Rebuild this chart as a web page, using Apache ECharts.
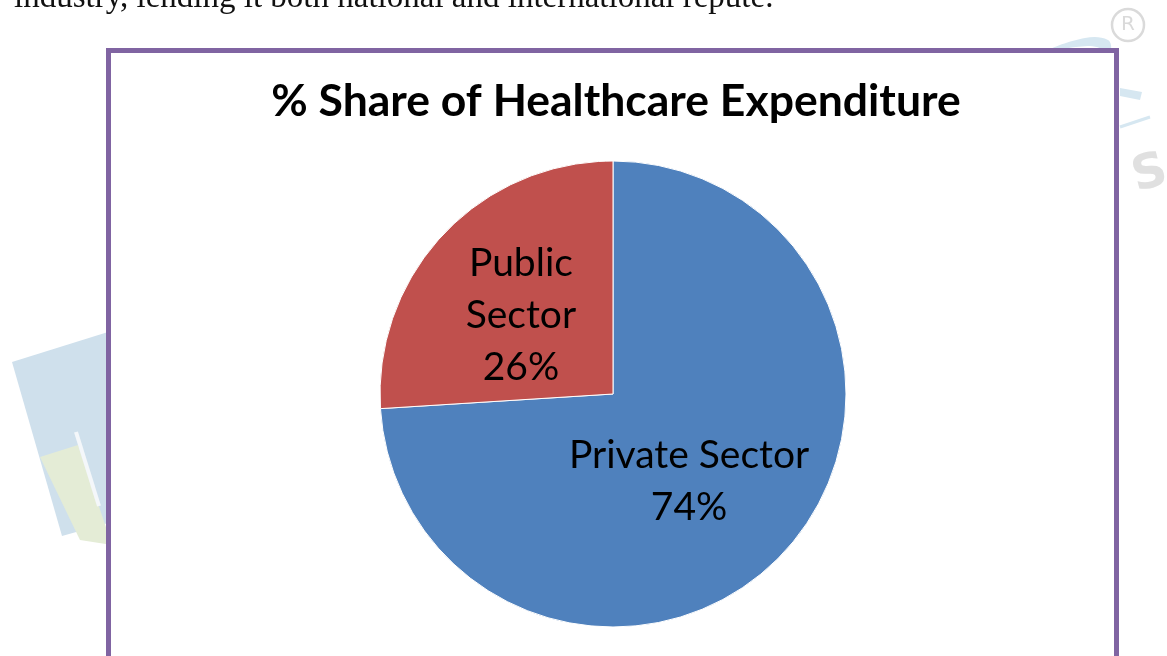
<!DOCTYPE html>
<html><head><meta charset="utf-8">
<script src="https://cdn.jsdelivr.net/npm/echarts@6/dist/echarts.min.js"></script>
<style>html,body{margin:0;padding:0;background:#fff}#c{width:1167px;height:656px}</style>
</head><body><div id="c"></div>
<script>
const chartTitle = '% Share of Healthcare Expenditure';
const categories = ['Private Sector', 'Public Sector'];
const displayLabels = ['Private Sector', 'Public\nSector'];
const values = [74, 26];
const colors = ['#4F81BD', '#C0504D'];
const pageText = 'industry, lending it both national and international repute.';

const labelShift = [[-11, 6], [-5, 3]];

const chart = echarts.init(document.getElementById('c'), null, {renderer: 'canvas'});
chart.setOption({
  backgroundColor: '#ffffff',
  animation: false,
  title: {
    text: chartTitle, left: 611, top: 74, textAlign: 'center',
    textStyle: {fontFamily: 'Lato', fontWeight: 'bold', fontSize: 44.5, color: '#000'}
  },
  graphic: [
    // faint watermark pieces behind the chart frame
    {type: 'polygon', z: -10, shape: {points: [[12,362],[140,322],[190,500],[62,536]]},
     style: {fill: '#cfe0ec'}},
    {type: 'polygon', z: -9, shape: {points: [[40,457],[78,445],[112,545],[80,540]]},
     style: {fill: '#e4ecd6'}},
    {type: 'line', z: -8, shape: {x1: 76, y1: 432, x2: 99, y2: 506}, style: {stroke: '#f4f7fa', lineWidth: 4}},
    {type: 'circle', z: -9, shape: {cx: 1128, cy: 25, r: 16}, style: {fill: 'none', stroke: '#dadada', lineWidth: 2.5}},
    {type: 'text', z: -9, x: 1128, y: 25, style: {text: 'R', fontSize: 20, fill: '#dadada', fontFamily: 'DejaVu Sans', align: 'center', verticalAlign: 'middle'}},
    {type: 'text', z: -9, x: 1150, y: 175, rotation: 0.25, style: {text: 'S', fontSize: 48, fontWeight: 'bold', fill: '#e0e0e0', fontFamily: 'DejaVu Sans', align: 'center', verticalAlign: 'middle'}},
    {type: 'polygon', z: -9, shape: {points: [[1050,50],[1085,38],[1108,40],[1110,50],[1090,46]], smooth: 0.4}, style: {fill: '#d6e7f1'}},
    {type: 'polygon', z: -9, shape: {points: [[1120,88],[1142,92],[1140,100],[1120,96]]}, style: {fill: '#d6e7f1'}},
    {type: 'line', z: -9, shape: {x1: 1120, y1: 127, x2: 1150, y2: 117}, style: {stroke: '#d6e7f1', lineWidth: 3}},
    {type: 'text', z: 5, left: 14, top: -18, style: {text: pageText, fontSize: 33, fill: '#111', fontFamily: 'Liberation Serif'}},
    {type: 'rect', z: -1, shape: {x: 108.5, y: 50.5, width: 1008, height: 620},
     style: {fill: '#ffffff', stroke: '#8064A2', lineWidth: 5}}
  ],
  series: [{
    type: 'pie',
    center: [613, 394],
    radius: [0, 233],
    startAngle: 90,
    clockwise: true,
    data: categories.map((c, i) => ({name: c, value: values[i], itemStyle: {color: colors[i]}})),
    itemStyle: {borderColor: '#ffffff', borderWidth: 1},
    label: {
      position: 'inside',
      formatter: p => displayLabels[p.dataIndex] + '\n' + p.value + '%',
      fontFamily: 'Lato', fontSize: 39, lineHeight: 52, color: '#000', align: 'center'
    },
    labelLayout: p => ({dx: labelShift[p.dataIndex][0], dy: labelShift[p.dataIndex][1]}),
    labelLine: {show: false},
    emphasis: {disabled: true}
  }]
});
</script></body></html>
